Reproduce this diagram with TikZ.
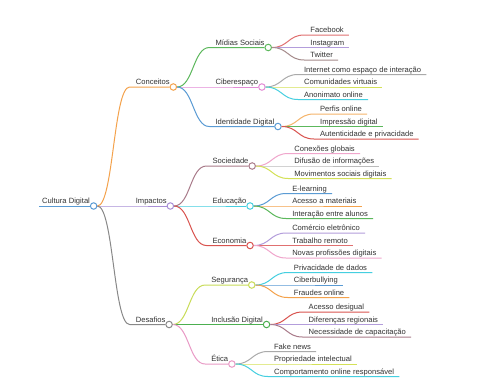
\documentclass[tikz,border=0pt]{standalone}
\usepackage{fontspec}
\setmainfont{Liberation Sans}
\usetikzlibrary{calc}
\definecolor{txtc}{HTML}{333333}
\definecolor{cblue}{HTML}{5A9BD4}
\definecolor{corange}{HTML}{F4A24C}
\definecolor{cpurple}{HTML}{A88FD6}
\definecolor{cgray}{HTML}{888888}
\definecolor{cgreen}{HTML}{5CB85C}
\definecolor{cmagenta}{HTML}{E38BD6}
\definecolor{cmauve}{HTML}{A97B8A}
\definecolor{ccyan}{HTML}{45CFE0}
\definecolor{cred}{HTML}{D9534F}
\definecolor{cyellow}{HTML}{C9DC59}
\definecolor{cgreenb}{HTML}{4CAF50}
\definecolor{cpink}{HTML}{E99AC6}
\definecolor{lred}{HTML}{E07070}
\definecolor{llav}{HTML}{B39DDB}
\definecolor{lbrown}{HTML}{A58B8B}
\definecolor{lgray}{HTML}{AAAAAA}
\definecolor{lgrayb}{HTML}{BBBBBB}
\definecolor{lyellow}{HTML}{D4E157}
\definecolor{lorange}{HTML}{F5B46A}
\definecolor{lpink}{HTML}{F0A6CC}
\tikzset{
  lbl/.style={inner sep=0pt, anchor=base west, text=txtc, font=\fontsize{7.6}{9}\selectfont},
  dot/.style={circle, fill=white, line width=1pt, minimum size=6.5pt, inner sep=0pt},
  conn/.style={line width=1pt},
}
% internal node: name, parent, dy, colour, text
\newcommand\mmnode[5]{%
  \node[lbl] (t#1) at ([shift={(42,#3-2.5)}]#2.center) {#5};
  \node[dot,draw=#4] (#1) at ([shift={(3.5,2.5)}]t#1.base east) {};
  \coordinate (s#1) at ([shift={(36,#3)}]#2.center);
  \coordinate (m#1) at ($(#2.east)!0.5!(s#1)$);
  \draw[conn,draw=#4] (#2.east) .. controls (m#1 |- #2.east) and (m#1 |- s#1) .. (s#1) -- (#1.west);
}
% leaf: name, parent, dy, colour, text
\newcommand\mmleaf[5]{%
  \node[lbl] (t#1) at ([shift={(42,#3-2.5)}]#2.center) {#5};
  \coordinate (e#1) at ([shift={(5,2.5)}]t#1.base east);
  \coordinate (s#1) at ([shift={(36,#3)}]#2.center);
  \coordinate (m#1) at ($(#2.east)!0.5!(s#1)$);
  \draw[conn,draw=#4] (#2.east) .. controls (m#1 |- #2.east) and (m#1 |- s#1) .. (s#1) -- (e#1);
}
\begin{document}
\begin{tikzpicture}[x=1pt,y=-1pt]
\useasboundingbox[fill=white] (0,0) rectangle (480,384);
% root
\node[lbl] (troot) at (42,203.5) {Cultura Digital};
\node[dot,draw=cblue] (root) at ([shift={(3.5,2.5)}]troot.base east) {};
\coordinate (r0) at (39,206);
\draw[conn,cblue] (r0) -- (root.west);
% level 1
\mmnode{con}{root}{-119}{corange}{Conceitos}
\mmnode{imp}{root}{0}{cpurple}{Impactos}
\mmnode{des}{root}{118.5}{cgray}{Desafios}
% level 2
\mmnode{mid}{con}{-39.5}{cgreen}{Mídias Sociais}
\mmnode{cib}{con}{0}{cmagenta}{Ciberespaço}
\mmnode{ide}{con}{39.5}{cblue}{Identidade Digital}
\mmnode{soc}{imp}{-40}{cmauve}{Sociedade}
\mmnode{edu}{imp}{0}{ccyan}{Educação}
\mmnode{eco}{imp}{39.5}{cred}{Economia}
\mmnode{seg}{des}{-39.5}{cyellow}{Segurança}
\mmnode{inc}{des}{0}{cgreenb}{Inclusão Digital}
\mmnode{eti}{des}{39.5}{cpink}{Ética}
% leaves
\mmleaf{fb}{mid}{-12.5}{lred}{Facebook}
\mmleaf{ig}{mid}{0}{llav}{Instagram}
\mmleaf{tw}{mid}{12.5}{lbrown}{Twitter}
\mmleaf{ie}{cib}{-12.5}{lgray}{Internet como espaço de interação}
\mmleaf{cv}{cib}{0}{lyellow}{Comunidades virtuais}
\mmleaf{ao}{cib}{12.5}{ccyan}{Anonimato online}
\mmleaf{po}{ide}{-12.5}{lorange}{Perfis online}
\mmleaf{id}{ide}{0}{cgreen}{Impressão digital}
\mmleaf{ap}{ide}{12.5}{cred}{Autenticidade e privacidade}
\mmleaf{cg}{soc}{-12.5}{lpink}{Conexões globais}
\mmleaf{di}{soc}{0}{lgrayb}{Difusão de informações}
\mmleaf{ms}{soc}{12.5}{lyellow}{Movimentos sociais digitais}
\mmleaf{el}{edu}{-12.5}{cblue}{E-learning}
\mmleaf{am}{edu}{0}{corange}{Acesso a materiais}
\mmleaf{ea}{edu}{12.5}{cgreen}{Interação entre alunos}
\mmleaf{ce}{eco}{-12.5}{llav}{Comércio eletrônico}
\mmleaf{tr}{eco}{0}{lred}{Trabalho remoto}
\mmleaf{np}{eco}{12.5}{lpink}{Novas profissões digitais}
\mmleaf{pd}{seg}{-12.5}{ccyan}{Privacidade de dados}
\mmleaf{cb}{seg}{0}{cblue}{Ciberbullying}
\mmleaf{fo}{seg}{12.5}{corange}{Fraudes online}
\mmleaf{ad}{inc}{-12.5}{cred}{Acesso desigual}
\mmleaf{dr}{inc}{0}{llav}{Diferenças regionais}
\mmleaf{nc}{inc}{12.5}{cmauve}{Necessidade de capacitação}
\mmleaf{fk}{eti}{-12.5}{lgray}{Fake news}
\mmleaf{pi}{eti}{0}{lyellow}{Propriedade intelectual}
\mmleaf{co}{eti}{12.5}{ccyan}{Comportamento online responsável}
\end{tikzpicture}
\end{document}
